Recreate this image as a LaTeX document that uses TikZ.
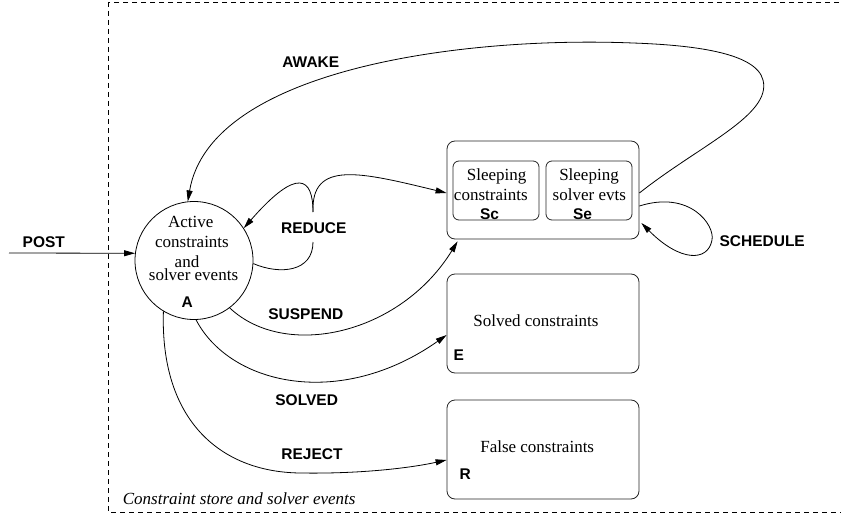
\documentclass[tikz,border=0pt]{standalone}
\usepackage{fontspec}
\setmainfont{Liberation Serif}
\newfontfamily\lsans{Liberation Sans}
\usetikzlibrary{arrows.meta}
\begin{document}
\begin{tikzpicture}[x=1pt,y=-1pt,
  lbl/.style={font=\lsans\bfseries\fontsize{15.5}{18}\selectfont, inner sep=0pt},
  txt/.style={font=\fontsize{17}{20.4}\selectfont, inner sep=0pt, anchor=base},
  tag/.style={font=\lsans\bfseries\fontsize{15.5}{18}\selectfont, inner sep=0pt, anchor=base},
  box/.style={draw=black!85, line width=0.8pt, rounded corners=8pt, inner sep=0pt},
  ibox/.style={draw=black!85, line width=0.8pt, rounded corners=6pt, inner sep=0pt},
  conn/.style={line width=0.8pt},
  arr/.style={conn, -{Triangle[length=11pt,width=6pt]}},
  frame/.style={dash pattern=on 5pt off 4pt, line width=0.7pt}
]
\useasboundingbox (0,0) rectangle (841,519);
% frame
\draw[frame] (108,2) rectangle (850,512);
\node[font=\itshape\fontsize{17}{20.4}\selectfont, inner sep=0pt, anchor=base west] (cap) at (122.7,504) {Constraint store and solver events};

% circle A
\node[draw, circle, minimum size=118pt, inner sep=0pt, line width=0.8pt] (A) at (194,260.5) {};
\node[txt] (a1) at (190.8,227) {Active};
\node[txt] (a2) at (192,247) {constraints};
\node[txt] (a3) at (187,267) {and};
\node[txt] (a4) at (193.5,280) {solver events};
\node[tag] (a5) at (187.2,307) {A};

% sleeping
\node[box, minimum width=192pt, minimum height=98pt] (S) at (543,190) {};
\node[ibox, minimum width=86pt, minimum height=59pt] (Sc) at (496,190.5) {};
\node[ibox, minimum width=86pt, minimum height=59pt] (Se) at (589,190.5) {};
\node[txt] (sc1) at (496.7,180.7) {Sleeping};
\node[txt] (sc2) at (490.8,200) {constraints};
\node[tag] (sc3) at (489.5,219) {Sc};
\node[txt] (se1) at (589,180.7) {Sleeping};
\node[txt] (se2) at (589.3,200) {solver evts};
\node[tag] (se3) at (582.5,219) {Se};

% solved
\node[box, minimum width=192pt, minimum height=99pt] (E) at (543,323.5) {};
\node[txt] (e1) at (536,326) {Solved constraints};
\node[tag] (e2) at (458.7,360) {E};

% false
\node[box, minimum width=192pt, minimum height=99pt] (R) at (543,449.5) {};
\node[txt] (r1) at (537.2,452) {False constraints};
\node[tag] (r2) at (465.3,479) {R};

% labels
\node[lbl] (lpost) at (43.8,241.7) {POST};
\node[lbl] (lreduce) at (313.8,228.5) {REDUCE};
\node[lbl] (lsuspend) at (305.8,314.5) {SUSPEND};
\node[lbl] (lsolved) at (306.7,400.5) {SOLVED};
\node[lbl] (lreject) at (312,453.8) {REJECT};
\node[lbl] (lawake) at (310.8,62.5) {AWAKE};
\node[lbl] (lsched) at (762.2,241.5) {SCHEDULE};

% POST
\coordinate (post) at (9,253);
\draw[arr] (post) -- (A.173);

% REDUCE
\coordinate (r1a) at (313,242);
\coordinate (r2a) at (313,212);
\draw[conn] (A.-3) .. controls (280,275) and (313,272) .. (r1a);
\draw[arr] (r2a) .. controls (313,178) and (298,166) .. (A.33);
\draw[arr] (r2a) .. controls (311,160) and (360,172) .. ([yshift=-3pt]S.west);

% AWAKE
\coordinate (aw1) at (763,80);
\coordinate (aw2) at (633,43);
\draw[arr] ([yshift=-3pt]S.east) .. controls (700,145) and (772,115) .. (aw1)
  .. controls (756,52) and (690,45) .. (aw2)
  .. controls (460,36) and (210,70) .. (A.96);

% SCHEDULE
\coordinate (sc) at (712,240);
\draw[arr] ([yshift=-16pt]S.east) .. controls (690,190) and (715,225) .. (sc)
  .. controls (708,262) and (680,262) .. ([shift={(2pt,-33pt)}]S.east);

% SUSPEND
\draw[arr] (A.-53) .. controls (285,360) and (400,335) .. ([shift={(11pt,-2pt)}]S.south west);

% SOLVED
\draw[arr] (A.-88) .. controls (230,385) and (340,410) .. ([yshift=-11.5pt]E.west);

% REJECT
\coordinate (rj) at (300,473);
\draw[arr] (A.-121) .. controls (160,420) and (220,472) .. (rj)
  .. controls (360,474) and (410,468) .. ([yshift=-10.5pt]R.west);
\end{tikzpicture}
\end{document}
